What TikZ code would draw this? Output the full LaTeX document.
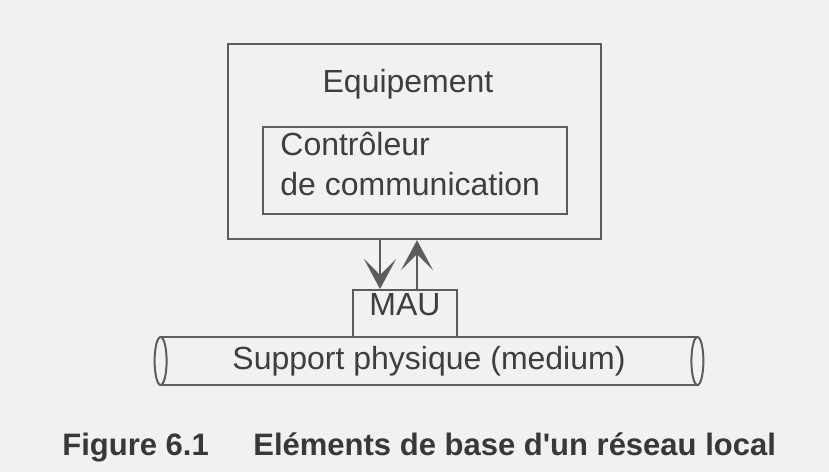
\documentclass[tikz,border=0pt]{standalone}
\usepackage{fontspec}
\setmainfont{Liberation Sans}
\usepackage{xcolor}
\usetikzlibrary{arrows.meta,positioning}
\definecolor{paper}{RGB}{242,240,242}
\definecolor{ink}{RGB}{62,62,62}
\definecolor{rule}{RGB}{92,92,92}

\begin{document}
\begin{tikzpicture}[x=0.5pt, y=-0.5pt,
  font=\fontsize{16}{20}\selectfont, text=ink,
  >={Stealth[length=15pt, width=16pt, inset=8pt]},
  box/.style={draw=rule, line width=#1, inner sep=0pt},
  box/.default=1pt,
  txt/.style={inner sep=0pt},
  figcap/.style={inner sep=0pt, font=\bfseries\fontsize{15.5}{18}\selectfont, text=ink!90!black}]
  \fill[paper] (0,0) rectangle (829,472);
  \useasboundingbox (0,0) rectangle (829,472);
  % station and its controller
  \node[box=1.2pt, minimum width=186.5pt, minimum height=97.5pt] (equip) at (414.5,141.5) {};
  \node[txt, anchor=base] (equiplab) at (408,92) {Equipement};
  \node[box=0.7pt, minimum width=152pt, minimum height=43.5pt] (ctrl) at (415,170.5) {};
  \node[txt, anchor=base west, align=left] (ctrllab) at (280,195) {Contrôleur\\de communication};
  % attachment unit and medium
  \node[box, anchor=base, minimum width=52pt, text height=12.5pt, text depth=11pt] (mau) at (405,315) {MAU};
  \node[txt, minimum width=268pt, minimum height=24pt] (pipe) at (429,361) {Support physique (medium)};
  \draw[rule, line width=1pt] (pipe.north west) -- (pipe.north east) (pipe.south west) -- (pipe.south east);
  \draw[rule, line width=1pt] (pipe.west) ellipse [x radius=3pt, y radius=12pt];
  \draw[rule, line width=1pt] (pipe.east) ellipse [x radius=3pt, y radius=12pt];
  % data in / out
  \coordinate (dn) at ([xshift=-12.5pt]mau.north);
  \coordinate (up) at ([xshift=6pt]mau.north);
  \draw[->, rule, line width=0.7pt] (dn |- equip.south) -- (dn);
  \draw[->, rule, line width=0.7pt] (up) -- (up |- equip.south);
  % caption
  \node[figcap, anchor=base west] (fignum) at (62,455) {Figure 6.1};
  \node[figcap, anchor=base west] (figtitle) at (253,455) {Eléments de base d\textquotesingle un réseau local};
\end{tikzpicture}
\end{document}
